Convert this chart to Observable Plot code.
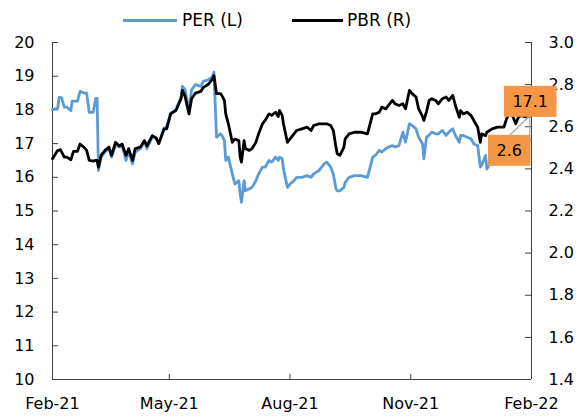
<!DOCTYPE html>
<html>
<head>
<meta charset="utf-8">
<script src="https://cdn.jsdelivr.net/npm/d3@7"></script>
<script src="https://cdn.jsdelivr.net/npm/@observablehq/plot@0.6"></script>
<style>
  body { margin: 0; background: #fff; font-family: "DejaVu Sans", sans-serif; }
  #wrap { width: 586px; height: 416px; position: relative; overflow: hidden; }
  #legend { position: relative; width: 586px; height: 30px; font-size: 17px; color: #000; }
  #legend .sw { position: absolute; height: 3px; top: 18.5px; }
  #legend .lb { position: absolute; top: 9px; line-height: 22px; white-space: nowrap; }
  #chart svg { display: block; }
</style>
</head>
<body>
<div id="wrap">
  <div id="legend"></div>
  <div id="chart"></div>
</div>
<script>
// ---------- data ----------
const seriesNames = ["PER (L)", "PBR (R)"];
const seriesColors = ["#5B9BD5", "#000000"];

const dates = [
  "2021-02-01","2021-02-05","2021-02-06","2021-02-07","2021-02-08","2021-02-10","2021-02-12","2021-02-15","2021-02-16","2021-02-17",
  "2021-02-20","2021-02-22","2021-02-25","2021-02-27","2021-03-01","2021-03-04","2021-03-06","2021-03-07","2021-03-08","2021-03-10",
  "2021-03-13","2021-03-16","2021-03-18","2021-03-21","2021-03-24","2021-03-26","2021-03-29","2021-03-31","2021-04-03","2021-04-05",
  "2021-04-09","2021-04-12","2021-04-14","2021-04-18","2021-04-21","2021-04-23","2021-04-27","2021-04-29","2021-05-02","2021-05-06",
  "2021-05-10","2021-05-11","2021-05-13","2021-05-16","2021-05-18","2021-05-21","2021-05-25","2021-05-27","2021-05-31","2021-06-03",
  "2021-06-04","2021-06-06","2021-06-09","2021-06-10","2021-06-12","2021-06-13","2021-06-15","2021-06-18","2021-06-20","2021-06-23",
  "2021-06-24","2021-06-25","2021-06-27","2021-06-28","2021-07-01","2021-07-03","2021-07-06","2021-07-08","2021-07-11","2021-07-13",
  "2021-07-16","2021-07-18","2021-07-21","2021-07-23","2021-07-24","2021-07-26","2021-07-27","2021-07-30","2021-08-01","2021-08-04",
  "2021-08-06","2021-08-10","2021-08-14","2021-08-17","2021-08-19","2021-08-23","2021-08-27","2021-08-29","2021-09-01","2021-09-03",
  "2021-09-05","2021-09-06","2021-09-08","2021-09-11","2021-09-12","2021-09-15","2021-09-19","2021-09-24","2021-09-29","2021-10-03",
  "2021-10-05","2021-10-08","2021-10-10","2021-10-13","2021-10-15","2021-10-18","2021-10-20","2021-10-23","2021-10-26","2021-10-28",
  "2021-10-31","2021-11-02","2021-11-05","2021-11-07","2021-11-10","2021-11-11","2021-11-13","2021-11-15","2021-11-17","2021-11-20",
  "2021-11-22","2021-11-25","2021-11-28","2021-11-30","2021-12-03","2021-12-05","2021-12-08","2021-12-09","2021-12-11","2021-12-14",
  "2021-12-17","2021-12-19","2021-12-22","2021-12-24","2021-12-25","2021-12-28","2021-12-29","2022-01-02","2022-01-06","2022-01-08",
  "2022-01-11","2022-01-13","2022-01-15","2022-01-17","2022-01-20","2022-01-22","2022-01-24","2022-01-27","2022-01-31"
];

const per = [
  18.01,18.05,18.37,18.37,18.35,18.08,18.08,17.98,18.26,18.26,
  18.26,18.55,18.50,18.50,17.93,17.93,18.34,18.34,16.20,16.60,
  16.75,16.85,16.60,16.95,16.90,16.95,16.50,16.75,16.40,16.75,
  16.85,17.05,16.85,17.20,17.15,17.00,17.45,17.50,17.90,18.00,
  18.40,18.70,18.60,18.00,18.60,18.75,18.70,18.85,18.90,19.00,
  19.12,17.19,17.29,17.25,17.09,16.50,16.60,16.10,15.80,15.90,
  15.50,15.26,15.90,15.60,15.66,15.70,15.90,16.10,16.30,16.30,
  16.50,16.45,16.60,16.50,16.60,16.55,16.25,15.70,15.80,15.90,
  16.00,16.00,16.05,16.00,16.10,16.20,16.40,16.45,16.30,16.10,
  15.66,15.60,15.60,15.70,15.85,16.00,16.05,16.05,16.00,16.60,
  16.65,16.80,16.75,16.85,16.90,16.94,16.90,16.94,17.34,17.04,
  17.59,17.54,17.44,17.19,16.99,16.55,17.19,17.25,17.34,17.29,
  17.29,17.39,17.24,17.34,17.44,17.24,17.04,17.24,17.24,17.19,
  17.14,16.99,16.94,16.30,16.35,16.65,16.25,16.50,16.70,16.80,
  16.85,16.90,16.95,17.00,17.00,17.05,17.05,17.10,17.10
];

const pbr = [
  2.448,2.488,2.488,2.491,2.480,2.456,2.456,2.443,2.464,2.483,
  2.483,2.518,2.502,2.488,2.440,2.437,2.440,2.440,2.408,2.464,
  2.488,2.504,2.464,2.526,2.509,2.518,2.464,2.496,2.440,2.496,
  2.504,2.534,2.509,2.558,2.547,2.520,2.590,2.590,2.661,2.677,
  2.733,2.773,2.744,2.661,2.733,2.760,2.768,2.787,2.803,2.827,
  2.843,2.757,2.757,2.749,2.725,2.661,2.614,2.526,2.542,2.534,
  2.456,2.432,2.534,2.496,2.488,2.496,2.526,2.566,2.614,2.630,
  2.661,2.654,2.669,2.648,2.677,2.654,2.614,2.526,2.542,2.566,
  2.582,2.590,2.598,2.582,2.606,2.614,2.614,2.614,2.606,2.582,
  2.502,2.472,2.464,2.502,2.542,2.566,2.574,2.574,2.566,2.661,
  2.661,2.669,2.693,2.685,2.701,2.725,2.709,2.701,2.709,2.685,
  2.773,2.757,2.741,2.685,2.648,2.630,2.672,2.725,2.733,2.725,
  2.709,2.733,2.741,2.725,2.749,2.701,2.645,2.677,2.661,2.669,
  2.653,2.630,2.598,2.526,2.566,2.558,2.574,2.590,2.598,2.598,
  2.598,2.638,2.661,2.661,2.614,2.645,2.653,2.648,2.650
];

const leftTicks = [10, 11, 12, 13, 14, 15, 16, 17, 18, 19, 20];
const rightTicks = [1.4, 1.6, 1.8, 2.0, 2.2, 2.4, 2.6, 2.8, 3.0];
const xTicks = ["2021-02-01", "2021-05-01", "2021-08-01", "2021-11-01", "2022-02-01"];
const endLabels = ["17.1", "2.6"];

// ---------- chart ----------
const FONT = '"DejaVu Sans", sans-serif';
const AXIS = "#404040";
const ORANGE = "#F79646";
const W = 586, H = 386, mL = 52, mR = 55, mT = 12, mB = 37;
const plotW = W - mL - mR, plotH = H - mT - mB;

// right axis (PBR 1.4–3.0) shares the plot height with the left axis (PER 10–20)
const toL = v => 10 + (v - 1.4) / 0.16;
const fromL = v => 1.4 + (v - 10) * 0.16;

const data = dates.map((d, i) => ({ date: new Date(d + "T00:00:00Z"), per: per[i], pbr: pbr[i] }));
const xTickDates = xTicks.map(d => new Date(d + "T00:00:00Z"));
const xDomain = [xTickDates[0], xTickDates[xTickDates.length - 1]];
const last = data[data.length - 1];

const lab1 = { dx: 0, dy: -38 };   // PER end label
const lab2 = { dx: -21, dy: 35 };  // PBR end label

const chart = Plot.plot({
  width: W, height: H,
  marginLeft: mL, marginRight: mR, marginTop: mT, marginBottom: mB,
  style: { fontFamily: FONT, fontSize: "16px", color: "#000", background: "#fff", overflow: "visible" },
  x: { type: "utc", domain: xDomain, axis: null, label: null },
  y: { domain: [10, 20], axis: null, label: null },
  marks: [
    Plot.axisY(leftTicks, { anchor: "left", tickSize: 0, tickPadding: 18, tickFormat: d => String(d), label: null, fontSize: 16, fill: "#000" }),
    Plot.axisY(rightTicks.map(toL), { anchor: "right", tickSize: 0, tickPadding: 17, tickFormat: v => fromL(v).toFixed(1), label: null, fontSize: 16, fill: "#000" }),
    Plot.axisX(xTickDates, { anchor: "bottom", tickSize: 0, tickPadding: 18, tickFormat: d3.utcFormat("%b-%y"), label: null, fontSize: 16, fill: "#000" }),
    Plot.tickY(leftTicks, { y: d => d, stroke: AXIS, strokeWidth: 1, insetRight: plotW - 6 }),
    Plot.tickY(rightTicks.map(toL), { y: d => d, stroke: AXIS, strokeWidth: 1, insetLeft: plotW - 6 }),
    Plot.tickX(xTickDates, { x: d => d, stroke: AXIS, strokeWidth: 1, insetTop: plotH - 5 }),
    Plot.ruleX([xDomain[0]], { stroke: AXIS, strokeWidth: 1 }),
    Plot.ruleX([xDomain[1]], { stroke: AXIS, strokeWidth: 1 }),
    Plot.ruleY([10], { stroke: AXIS, strokeWidth: 1 }),
    Plot.lineY(data, { x: "date", y: "per", stroke: seriesColors[0], strokeWidth: 2.8, strokeLinejoin: "round" }),
    Plot.lineY(data, { x: "date", y: d => toL(d.pbr), stroke: seriesColors[1], strokeWidth: 2.8, strokeLinejoin: "round" }),
    Plot.text([last], { x: "date", y: "per", text: () => endLabels[0], dx: lab1.dx, dy: lab1.dy, fontSize: 16, fill: "#000" }),
    Plot.text([last], { x: "date", y: d => toL(d.pbr), text: () => endLabels[1], dx: lab2.dx, dy: lab2.dy, fontSize: 16, fill: "#000" })
  ]
});

document.getElementById("chart").appendChild(chart);

// ---------- leader lines & orange label boxes ----------
const ns = "http://www.w3.org/2000/svg";
const xs = chart.scale("x"), ys = chart.scale("y");
const ex = xs.apply(last.date);
const eyPer = ys.apply(last.per);
const eyPbr = ys.apply(toL(last.pbr));
const BOXH = 31;

const textGroups = Array.from(chart.querySelectorAll('g[aria-label="text"]'));
const leaders = document.createElementNS(ns, "g");
function addLine(x1, y1, x2, y2) {
  const l = document.createElementNS(ns, "line");
  l.setAttribute("x1", x1); l.setAttribute("y1", y1);
  l.setAttribute("x2", x2); l.setAttribute("y2", y2);
  l.setAttribute("stroke", "#A6A6A6"); l.setAttribute("stroke-width", "1.2");
  leaders.appendChild(l);
}
addLine(ex, eyPer, ex + lab1.dx, eyPer + lab1.dy + BOXH / 2 - 1);
addLine(ex, eyPbr, ex + lab2.dx, eyPbr + lab2.dy - BOXH / 2 + 1);
if (textGroups.length) textGroups[0].parentNode.insertBefore(leaders, textGroups[0]);

textGroups.forEach(g => {
  g.querySelectorAll("text").forEach(t => {
    const b = t.getBBox();
    const padX = 8.5;
    const r = document.createElementNS(ns, "rect");
    const cy = b.y + b.height / 2;
    r.setAttribute("x", b.x - padX);
    r.setAttribute("y", cy - BOXH / 2 - 0.5);
    r.setAttribute("width", b.width + 2 * padX);
    r.setAttribute("height", BOXH);
    r.setAttribute("fill", ORANGE);
    const tr = t.getAttribute("transform");
    if (tr) r.setAttribute("transform", tr);
    g.insertBefore(r, t);
  });
});

// ---------- legend ----------
const legend = document.getElementById("legend");
const legendPos = [{ sw: 123, w: 54, lb: 182 }, { sw: 292, w: 51, lb: 347 }];
seriesNames.forEach((name, i) => {
  const s = document.createElement("div");
  s.className = "sw";
  s.style.left = legendPos[i].sw + "px";
  s.style.width = legendPos[i].w + "px";
  s.style.background = seriesColors[i];
  legend.appendChild(s);
  const l = document.createElement("div");
  l.className = "lb";
  l.style.left = legendPos[i].lb + "px";
  l.textContent = name;
  legend.appendChild(l);
});
</script>
</body>
</html>
